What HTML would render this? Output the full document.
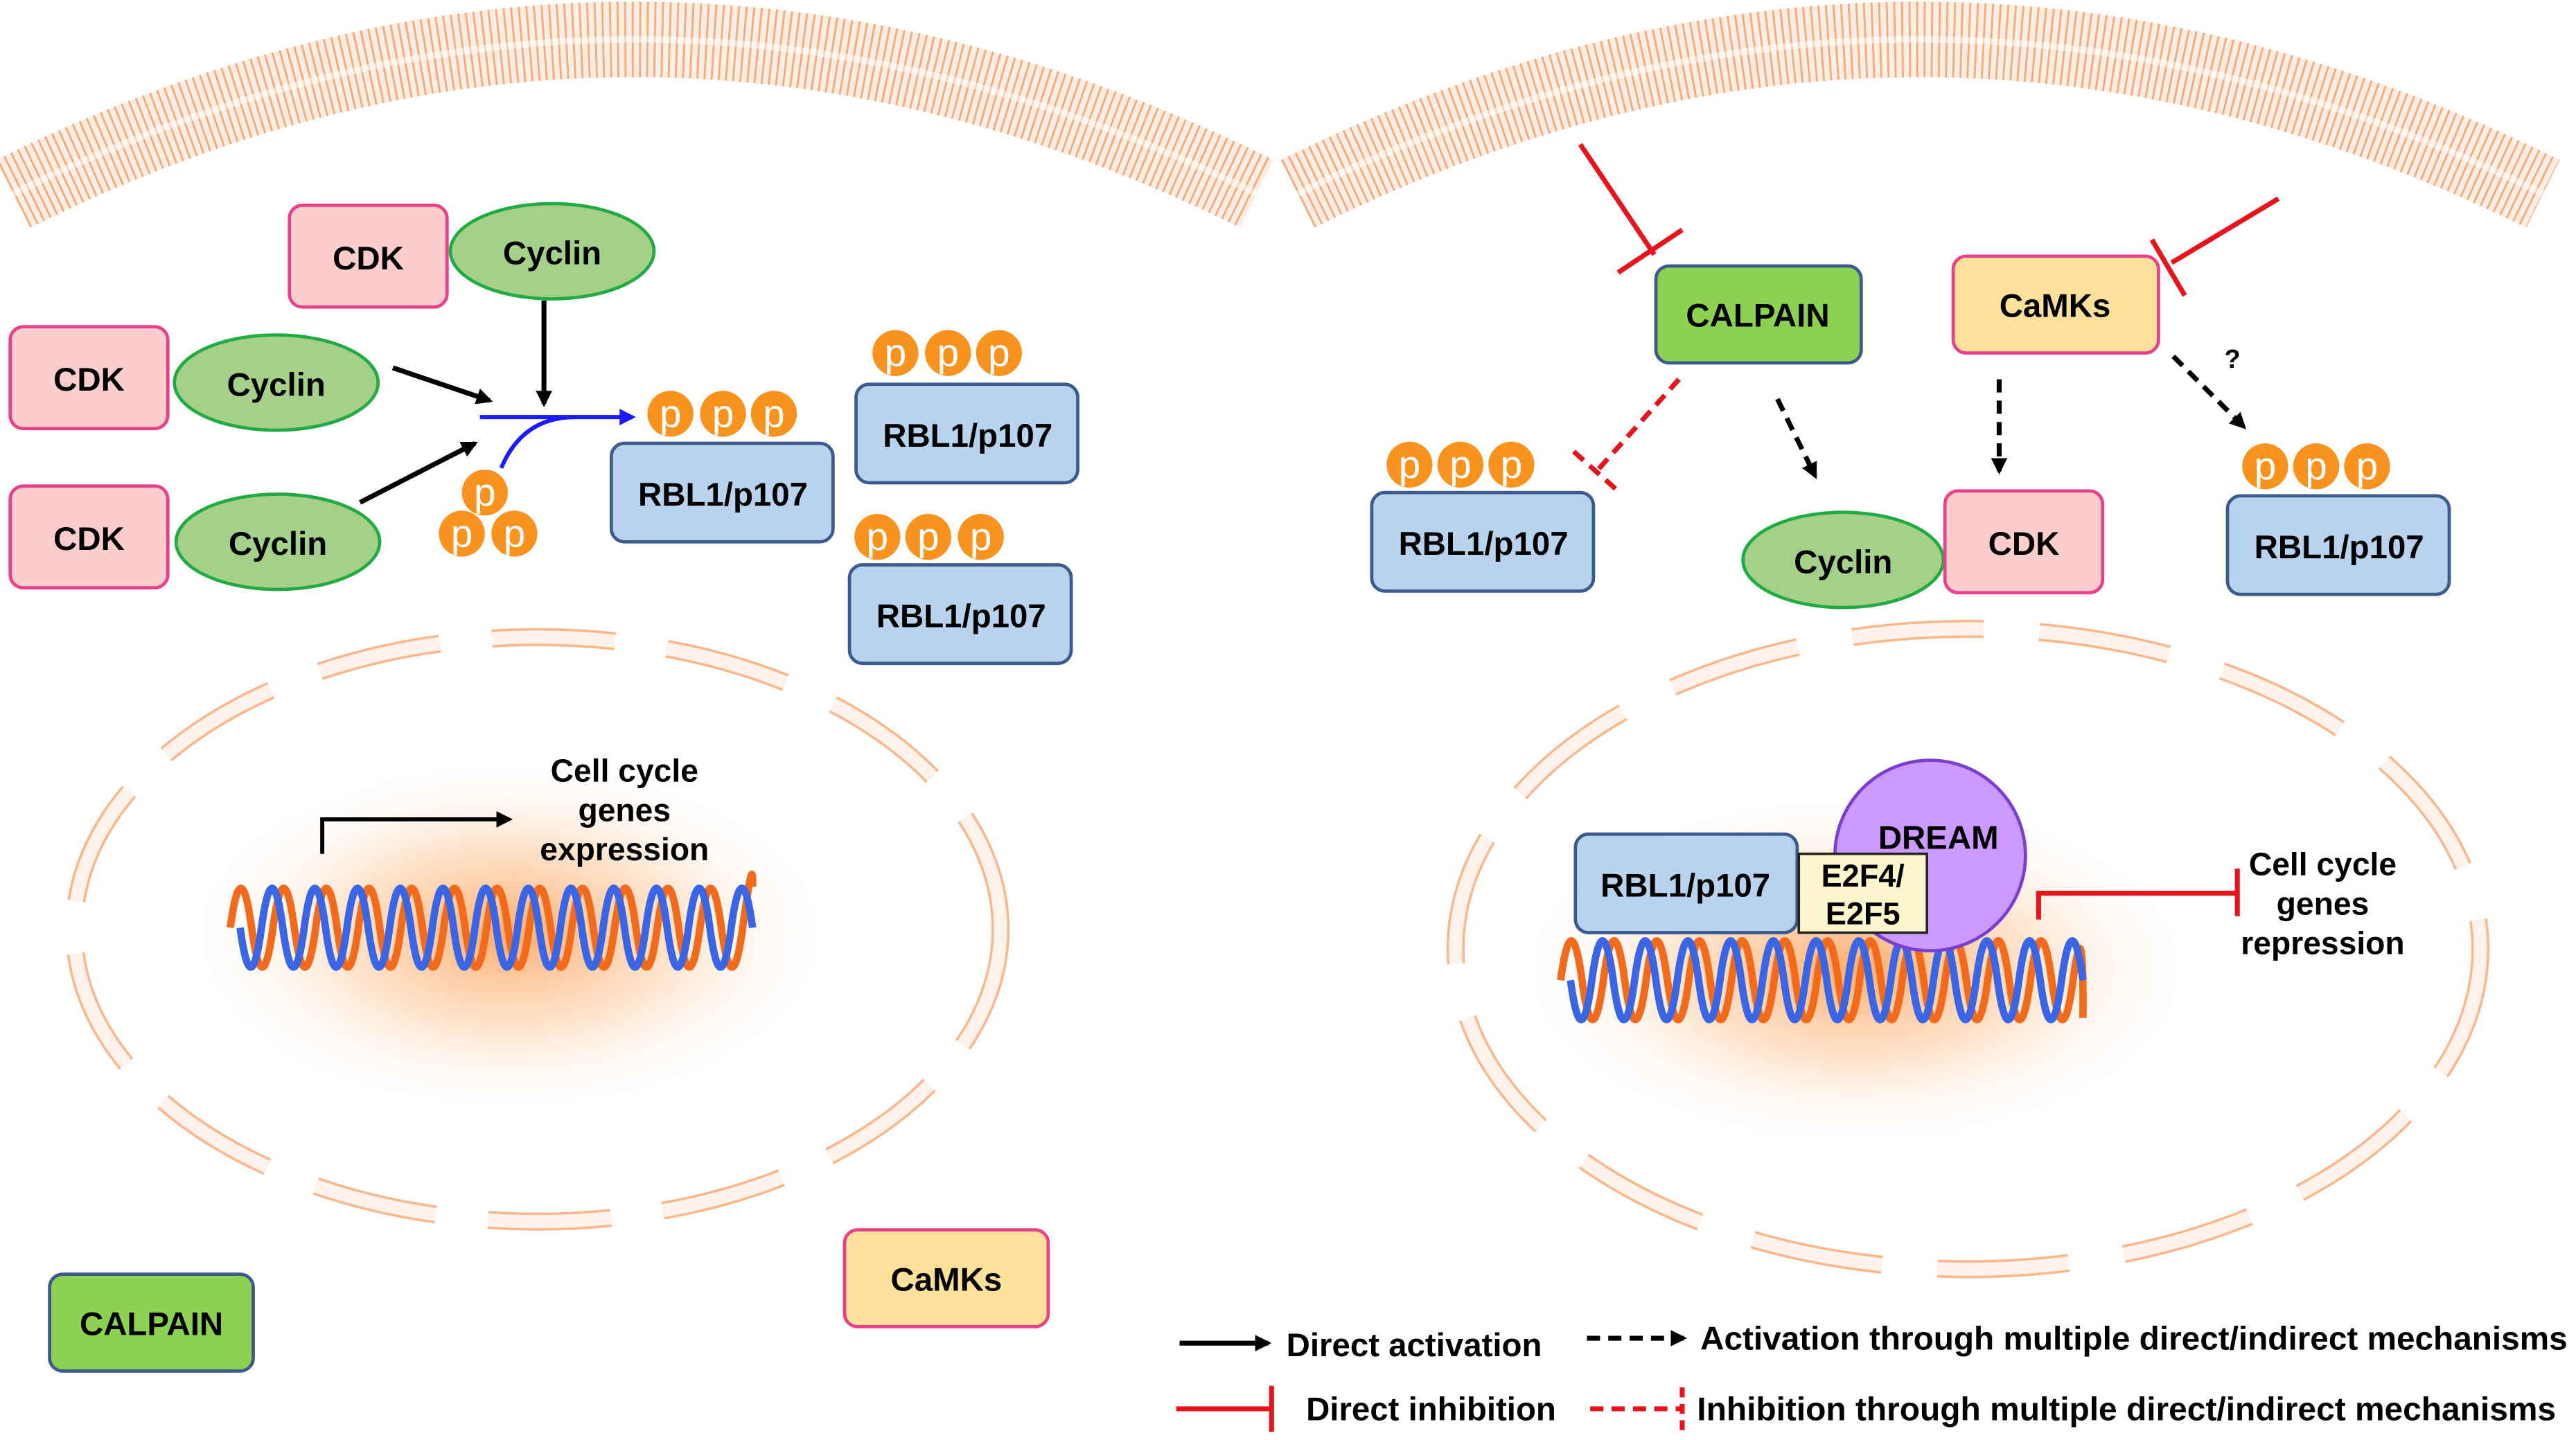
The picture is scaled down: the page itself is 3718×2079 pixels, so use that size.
<!DOCTYPE html>
<html><head><meta charset="utf-8"><style>html,body{margin:0;padding:0;background:#fff}svg{display:block}text{font-family:"Liberation Sans",Arial,sans-serif;font-weight:bold}</style></head>
<body>
<svg width="3718" height="2079" viewBox="0 0 1568 877" xmlns="http://www.w3.org/2000/svg">
<defs>
<radialGradient id="glow" cx="0.5" cy="0.5" r="0.5">
<stop offset="0" stop-color="#fba868" stop-opacity="0.95"/>
<stop offset="0.5" stop-color="#fdd0a8" stop-opacity="0.6"/>
<stop offset="1" stop-color="#fff" stop-opacity="0"/>
</radialGradient>
<marker id="ab" markerWidth="10" markerHeight="10" refX="8" refY="5" orient="auto" markerUnits="userSpaceOnUse"><path d="M0,0 L10,5 L0,10 Z" fill="#000"/></marker>
<marker id="abl" markerWidth="10" markerHeight="10" refX="8" refY="5" orient="auto" markerUnits="userSpaceOnUse"><path d="M0,0 L10,5 L0,10 Z" fill="#1a1aff"/></marker>
</defs>

<!-- membranes -->
<g fill="none">
<path d="M8,118 Q385,-70 765,118" stroke="#fdeee5" stroke-width="46"/>
<path d="M8,118 Q385,-70 765,118" stroke="#f57c28" stroke-width="46" stroke-dasharray="1.2 3.3" opacity="0.6"/>
<path d="M8,118 Q385,-70 765,118" stroke="#fff" stroke-width="4" opacity="0.5"/>
<path d="M790,118 Q1168,-70 1548,118" stroke="#fdeee5" stroke-width="46"/>
<path d="M790,118 Q1168,-70 1548,118" stroke="#f57c28" stroke-width="46" stroke-dasharray="1.2 3.3" opacity="0.6"/>
<path d="M790,118 Q1168,-70 1548,118" stroke="#fff" stroke-width="4" opacity="0.5"/>
</g>

<!-- nuclei -->
<ellipse cx="310" cy="570" rx="200" ry="110" fill="url(#glow)"/>
<ellipse cx="327" cy="566" rx="282" ry="178" fill="none" stroke="#f9b78c" stroke-width="11" stroke-dasharray="75 32"/>
<ellipse cx="327" cy="566" rx="282" ry="178" fill="none" stroke="#fff2ea" stroke-width="8" stroke-dasharray="75 32"/>
<ellipse cx="1130" cy="590" rx="210" ry="110" fill="url(#glow)"/>
<ellipse cx="1198" cy="578" rx="312" ry="195" fill="none" stroke="#f9b78c" stroke-width="11" stroke-dasharray="80 34"/>
<ellipse cx="1198" cy="578" rx="312" ry="195" fill="none" stroke="#fff2ea" stroke-width="8" stroke-dasharray="80 34"/>

<!-- DNA -->
<g fill="none" stroke-width="4.5">
<path d="M140,565 Q146.5,517 153,565 T166,565 T179,565 T192,565 T205,565 T218,565 T231,565 T244,565 T257,565 T270,565 T283,565 T296,565 T309,565 T322,565 T335,565 T348,565 T361,565 T374,565 T387,565 T400,565 T413,565 T426,565 T439,565 T452,565 T458,540" stroke="#f26b1d"/>
<path d="M146,565 Q152.5,613 159,565 T172,565 T185,565 T198,565 T211,565 T224,565 T237,565 T250,565 T263,565 T276,565 T289,565 T302,565 T315,565 T328,565 T341,565 T354,565 T367,565 T380,565 T393,565 T406,565 T419,565 T432,565 T445,565 T458,565" stroke="#3a66e6"/>
<path d="M950,597 Q956.5,549 963,597 T976,597 T989,597 T1002,597 T1015,597 T1028,597 T1041,597 T1054,597 T1067,597 T1080,597 T1093,597 T1106,597 T1119,597 T1132,597 T1145,597 T1158,597 T1171,597 T1184,597 T1197,597 T1210,597 T1223,597 T1236,597 T1249,597 T1262,597 T1268,620" stroke="#f26b1d"/>
<path d="M956,597 Q962.5,645 969,597 T982,597 T995,597 T1008,597 T1021,597 T1034,597 T1047,597 T1060,597 T1073,597 T1086,597 T1099,597 T1112,597 T1125,597 T1138,597 T1151,597 T1164,597 T1177,597 T1190,597 T1203,597 T1216,597 T1229,597 T1242,597 T1255,597 T1268,597" stroke="#3a66e6"/>
</g>

<!-- transcription arrow left -->
<path d="M196,520 V499 H310" fill="none" stroke="#000" stroke-width="2.5" marker-end="url(#ab)"/>
<text x="380" y="476" font-size="19.5" text-anchor="middle">Cell cycle</text>
<text x="380" y="500" font-size="19.5" text-anchor="middle">genes</text>
<text x="380" y="524" font-size="19.5" text-anchor="middle">expression</text>

<!-- Left panel boxes -->
<g stroke-width="2">
<rect x="176" y="125" width="96" height="62" rx="8" fill="#fccdcd" stroke="#e8408a"/>
<ellipse cx="336" cy="153" rx="62" ry="29" fill="#a5d08a" stroke="#22aa44"/>
<rect x="6" y="199" width="96" height="62" rx="8" fill="#fccdcd" stroke="#e8408a"/>
<ellipse cx="168" cy="233" rx="62" ry="29" fill="#a5d08a" stroke="#22aa44"/>
<rect x="6" y="296" width="96" height="62" rx="8" fill="#fccdcd" stroke="#e8408a"/>
<ellipse cx="169" cy="330" rx="62" ry="29" fill="#a5d08a" stroke="#22aa44"/>
<rect x="372" y="270" width="135" height="60" rx="8" fill="#b9d3ee" stroke="#3d5a8c"/>
<rect x="521" y="234" width="135" height="60" rx="8" fill="#b9d3ee" stroke="#3d5a8c"/>
<rect x="517" y="344" width="135" height="60" rx="8" fill="#b9d3ee" stroke="#3d5a8c"/>
<rect x="30" y="776" width="124" height="59" rx="8" fill="#8cd152" stroke="#3d5a8c"/>
<rect x="514" y="749" width="124" height="59" rx="8" fill="#fde19a" stroke="#e8408a"/>
</g>
<g font-size="20" text-anchor="middle">
<text x="224" y="164">CDK</text><text x="336" y="161">Cyclin</text>
<text x="54" y="238">CDK</text><text x="168" y="241">Cyclin</text>
<text x="54" y="335">CDK</text><text x="169" y="338">Cyclin</text>
<text x="440" y="308">RBL1/p107</text>
<text x="589" y="272">RBL1/p107</text>
<text x="585" y="382">RBL1/p107</text>
<text x="92" y="813">CALPAIN</text>
<text x="576" y="786">CaMKs</text>
</g>

<!-- phosphates -->
<g fill="#f7931e">
<circle cx="408" cy="252" r="14"/><circle cx="440" cy="252" r="14"/><circle cx="471" cy="252" r="14"/>
<circle cx="545" cy="215" r="14"/><circle cx="577" cy="215" r="14"/><circle cx="608" cy="215" r="14"/>
<circle cx="534" cy="327" r="14"/><circle cx="565" cy="327" r="14"/><circle cx="597" cy="327" r="14"/>
<circle cx="295" cy="300" r="14"/><circle cx="281" cy="325" r="14"/><circle cx="313" cy="325" r="14"/>
<circle cx="858" cy="283" r="14"/><circle cx="889" cy="283" r="14"/><circle cx="920" cy="283" r="14"/>
<circle cx="1379" cy="284" r="14"/><circle cx="1410" cy="284" r="14"/><circle cx="1441" cy="284" r="14"/>
</g>
<g font-size="24" fill="#fff" text-anchor="middle">
<text x="408" y="260" style="font-weight:normal">p</text><text x="440" y="260" style="font-weight:normal">p</text><text x="471" y="260" style="font-weight:normal">p</text>
<text x="545" y="223" style="font-weight:normal">p</text><text x="577" y="223" style="font-weight:normal">p</text><text x="608" y="223" style="font-weight:normal">p</text>
<text x="534" y="335" style="font-weight:normal">p</text><text x="565" y="335" style="font-weight:normal">p</text><text x="597" y="335" style="font-weight:normal">p</text>
<text x="295" y="308" style="font-weight:normal">p</text><text x="281" y="333" style="font-weight:normal">p</text><text x="313" y="333" style="font-weight:normal">p</text>
<text x="858" y="291" style="font-weight:normal">p</text><text x="889" y="291" style="font-weight:normal">p</text><text x="920" y="291" style="font-weight:normal">p</text>
<text x="1379" y="292" style="font-weight:normal">p</text><text x="1410" y="292" style="font-weight:normal">p</text><text x="1441" y="292" style="font-weight:normal">p</text>
</g>

<!-- left arrows -->
<g stroke="#000" stroke-width="3" fill="none">
<path d="M331,183 V246" marker-end="url(#ab)"/>
<path d="M239,224 L298,244" marker-end="url(#ab)"/>
<path d="M219,306 L289,270" marker-end="url(#ab)"/>
</g>
<path d="M292,254 H385" stroke="#1a1aff" stroke-width="2.5" fill="none" marker-end="url(#abl)"/>
<path d="M305,285 Q318,254 350,254" stroke="#1a1aff" stroke-width="2.5" fill="none"/>

<!-- Right panel -->
<g stroke-width="2">
<rect x="1008" y="162" width="125" height="59" rx="8" fill="#8cd152" stroke="#3d5a8c"/>
<rect x="1189" y="156" width="125" height="59" rx="8" fill="#fde19a" stroke="#e8408a"/>
<rect x="835" y="300" width="135" height="60" rx="8" fill="#b9d3ee" stroke="#3d5a8c"/>
<ellipse cx="1122" cy="341" rx="61" ry="29" fill="#a5d08a" stroke="#22aa44"/>
<rect x="1184" y="299" width="96" height="62" rx="8" fill="#fccdcd" stroke="#e8408a"/>
<rect x="1356" y="302" width="135" height="60" rx="8" fill="#b9d3ee" stroke="#3d5a8c"/>
<circle cx="1175" cy="521" r="58" fill="#cc99ff" stroke="#7a3fcf"/>
<rect x="959" y="508" width="135" height="60" rx="8" fill="#b9d3ee" stroke="#3d5a8c"/>
<rect x="1095" y="520" width="78" height="48" fill="#fdf5cc" stroke="#222" stroke-width="1.5"/>
</g>
<g font-size="20" text-anchor="middle">
<text x="1070" y="199">CALPAIN</text>
<text x="1251" y="193">CaMKs</text>
<text x="903" y="338">RBL1/p107</text>
<text x="1122" y="349">Cyclin</text>
<text x="1232" y="338">CDK</text>
<text x="1424" y="340">RBL1/p107</text>
<text x="1180" y="517">DREAM</text>
<text x="1026" y="546">RBL1/p107</text>
<text x="1134" y="540" font-size="19">E2F4/</text>
<text x="1134" y="563" font-size="19">E2F5</text>
<text x="1414" y="533" font-size="19.5">Cell cycle</text>
<text x="1414" y="557" font-size="19.5">genes</text>
<text x="1414" y="581" font-size="19.5">repression</text>
<text x="1359" y="224" font-size="16">?</text>
</g>

<g stroke="#e8141c" stroke-width="3" fill="none">
<path d="M962,88 L1007,155"/><path d="M985,166 L1024,140"/>
<path d="M1387,121 L1322,160"/><path d="M1310,146 L1330,180"/>
<path d="M1241,560 V544 H1362"/><path d="M1362,529 V558"/>
</g>
<g stroke="#e8141c" stroke-width="3" fill="none" stroke-dasharray="8 5">
<path d="M1022,231 L971,288"/><path d="M958,275 L986,300"/>
</g>
<g stroke="#000" stroke-width="3" fill="none" stroke-dasharray="8 5">
<path d="M1082,243 L1105,290" marker-end="url(#ab)"/>
<path d="M1217,231 V287" marker-end="url(#ab)"/>
<path d="M1323,217 L1366,260" marker-end="url(#ab)"/>
</g>

<!-- legend -->
<path d="M718,818 H772" stroke="#000" stroke-width="3" marker-end="url(#ab)"/>
<text x="783" y="826" font-size="20">Direct activation</text>
<path d="M966,815 H1025" stroke="#000" stroke-width="3" stroke-dasharray="8 5" marker-end="url(#ab)"/>
<text x="1035" y="822" font-size="20" textLength="528" lengthAdjust="spacingAndGlyphs">Activation through multiple direct/indirect mechanisms</text>
<path d="M716,858 H774 M774,844 V872" stroke="#e8141c" stroke-width="3" fill="none"/>
<text x="795" y="865" font-size="20">Direct inhibition</text>
<path d="M968,858 H1023" stroke="#e8141c" stroke-width="3" stroke-dasharray="8 5"/>
<path d="M1024,845 V872" stroke="#e8141c" stroke-width="3" stroke-dasharray="6 4"/>
<text x="1033" y="865" font-size="20" textLength="523" lengthAdjust="spacingAndGlyphs">Inhibition through multiple direct/indirect mechanisms</text>
</svg>
</body></html>
